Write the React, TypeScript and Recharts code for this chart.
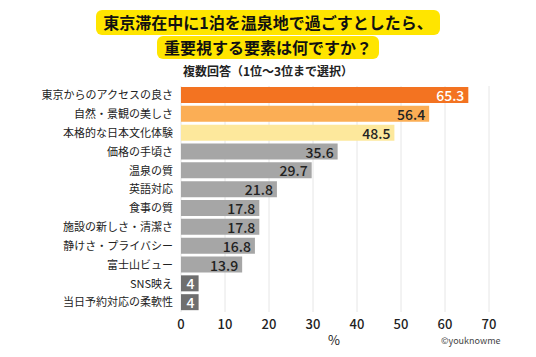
import React from 'react'
import { BarChart, Bar, XAxis, YAxis, CartesianGrid, Cell, LabelList } from 'recharts'

const categories = [
  '東京からのアクセスの良さ',
  '自然・景観の美しさ',
  '本格的な日本文化体験',
  '価格の手頃さ',
  '温泉の質',
  '英語対応',
  '食事の質',
  '施設の新しさ・清潔さ',
  '静けさ・プライバシー',
  '富士山ビュー',
  'SNS映え',
  '当日予約対応の柔軟性',
]
const values = [65.3, 56.4, 48.5, 35.6, 29.7, 21.8, 17.8, 17.8, 16.8, 13.9, 4, 4]
const barColors = [
  '#f37321', '#fbae55', '#fde89c', '#a6a6a6', '#a6a6a6', '#a6a6a6',
  '#a6a6a6', '#a6a6a6', '#a6a6a6', '#a6a6a6', '#6f6f6f', '#6f6f6f',
]
const labelColors = [
  '#ffffff', '#222222', '#222222', '#222222', '#222222', '#222222',
  '#222222', '#222222', '#222222', '#222222', '#ffffff', '#ffffff',
]
const xTicks = [0, 10, 20, 30, 40, 50, 60, 70]

const data = categories.map((name, i) => ({ name, value: values[i], idx: i }))

const font = '"Noto Sans CJK JP", "Noto Sans", sans-serif'

const ValueLabel = (props: any) => {
  const { x, y, width, height, value, index } = props
  return (
    <text
      x={x + width - 4}
      y={y + height / 2}
      textAnchor="end"
      dominantBaseline="central"
      fontSize={14}
      fontWeight={500}
      fill={labelColors[index]}
      fontFamily={font}
    >
      {value}
    </text>
  )
}

const titleBox: React.CSSProperties = {
  display: 'inline-block',
  background: '#ffe500',
  borderRadius: 6,
  padding: '1px 7px',
  fontSize: 16,
  fontWeight: 700,
  lineHeight: '23px',
  color: '#111',
}

export default function App() {
  return (
    <div style={{ position: 'relative', width: 536, height: 357, background: '#fff', fontFamily: font }}>
      <style>{'body{margin:0}'}</style>
      <div style={{ position: 'absolute', top: 10, left: 0, width: 536, textAlign: 'center' }}>
        <span style={titleBox}>東京滞在中に1泊を温泉地で過ごすとしたら、</span>
      </div>
      <div style={{ position: 'absolute', top: 35, left: 0, width: 536, textAlign: 'center' }}>
        <span style={{ ...titleBox, padding: '0px 7px' }}>重要視する要素は何ですか？</span>
      </div>
      <div
        style={{
          position: 'absolute',
          top: 62,
          left: 0,
          width: 536,
          textAlign: 'center',
          fontSize: 12,
          fontWeight: 700,
          color: '#222',
        }}
      >
        複数回答（1位～3位まで選択）
      </div>
      <div style={{ position: 'absolute', top: 0, left: 0 }}>
        <BarChart
          width={536}
          height={357}
          data={data}
          layout="vertical"
          margin={{ top: 86, right: 47, left: 0, bottom: 15 }}
          barSize={16}
        >
          <CartesianGrid horizontal={false} stroke="#e6e6e6" />
          <XAxis
            type="number"
            domain={[0, 70]}
            ticks={xTicks}
            axisLine={false}
            tickLine={false}
            tick={{ fontSize: 13, fill: '#222', fontFamily: font, fontWeight: 500 }}
            height={30}
            interval={0}
          />
          <YAxis
            type="category"
            dataKey="name"
            width={181}
            axisLine={false}
            tickLine={false}
            interval={0}
            tick={{ fontSize: 11, fill: '#222', fontFamily: font }}
            tickMargin={2}
          />
          <Bar dataKey="value" isAnimationActive={false}>
            {data.map((d) => (
              <Cell key={d.name} fill={barColors[d.idx]} />
            ))}
            <LabelList dataKey="value" content={<ValueLabel />} />
          </Bar>
        </BarChart>
      </div>
      <div style={{ position: 'absolute', top: 330, left: 328, fontSize: 13, color: '#222' }}>%</div>
      <div style={{ position: 'absolute', top: 334, left: 441, fontSize: 9, color: '#444' }}>©youknowme</div>
    </div>
  )
}
